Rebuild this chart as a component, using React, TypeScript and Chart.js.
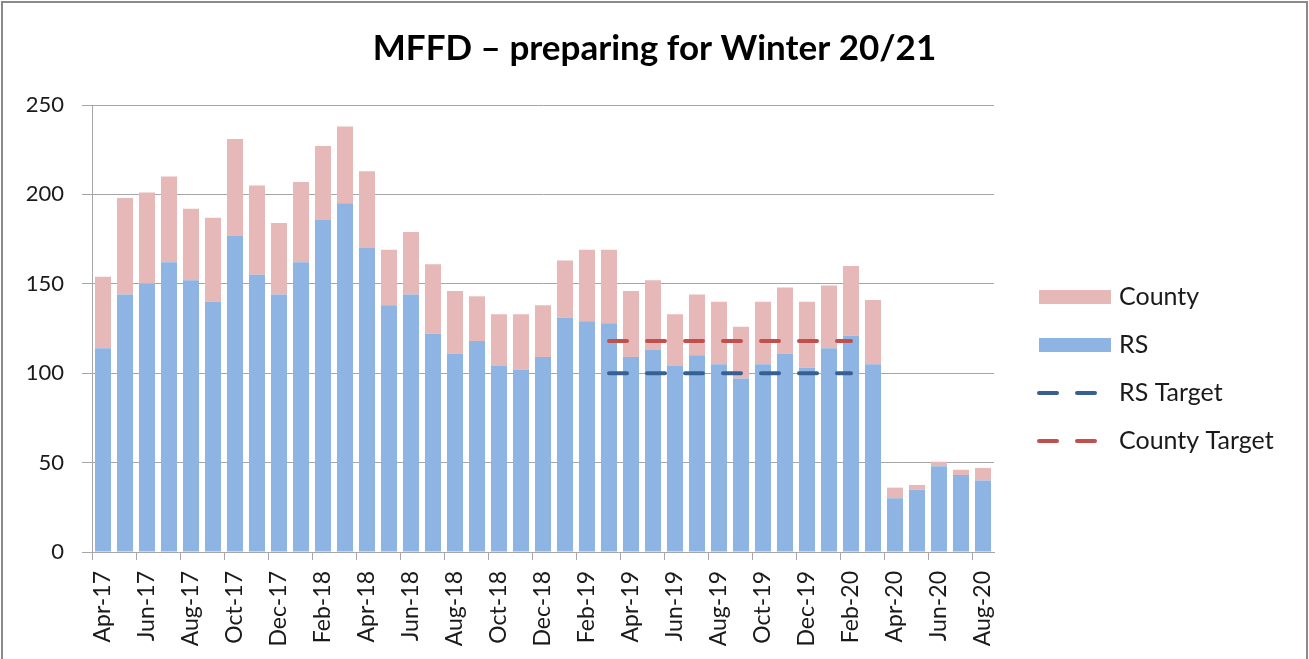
import React, { useEffect, useRef } from 'react';
import { Chart, registerables } from 'chart.js';

Chart.register(...registerables);

const chartTitle = 'MFFD – preparing for Winter 20/21';

const months = [
  'Apr-17', 'May-17', 'Jun-17', 'Jul-17', 'Aug-17', 'Sep-17', 'Oct-17', 'Nov-17', 'Dec-17',
  'Jan-18', 'Feb-18', 'Mar-18', 'Apr-18', 'May-18', 'Jun-18', 'Jul-18', 'Aug-18', 'Sep-18', 'Oct-18', 'Nov-18', 'Dec-18',
  'Jan-19', 'Feb-19', 'Mar-19', 'Apr-19', 'May-19', 'Jun-19', 'Jul-19', 'Aug-19', 'Sep-19', 'Oct-19', 'Nov-19', 'Dec-19',
  'Jan-20', 'Feb-20', 'Mar-20', 'Apr-20', 'May-20', 'Jun-20', 'Jul-20', 'Aug-20',
];

const rsValues = [
  114, 144, 150, 162, 152, 140, 177, 155, 144,
  162, 186, 195, 170, 138, 144, 122, 111, 118, 104, 102, 109,
  131, 129, 128, 109, 113, 104, 110, 105, 97, 105, 111, 103,
  114, 121, 105, 30, 35, 48, 43, 40,
];

const countyValues = [
  40, 54, 51, 48, 40, 47, 54, 50, 40,
  45, 41, 43, 43, 31, 35, 39, 35, 25, 29, 31, 29,
  32, 40, 41, 37, 39, 29, 34, 35, 29, 35, 37, 37,
  35, 39, 36, 6, 2.5, 2.5, 3, 7,
];

const rsTarget = [
  null, null, null, null, null, null, null, null, null,
  null, null, null, null, null, null, null, null, null, null, null, null,
  null, null, 100, 100, 100, 100, 100, 100, 100, 100, 100, 100,
  100, 100, null, null, null, null, null, null,
];

const countyTarget = [
  null, null, null, null, null, null, null, null, null,
  null, null, null, null, null, null, null, null, null, null, null, null,
  null, null, 118, 118, 118, 118, 118, 118, 118, 118, 118, 118,
  118, 118, null, null, null, null, null, null,
];

const yTicks = [0, 50, 100, 150, 200, 250];

const legendOrder = ['County', 'RS', 'RS Target', 'County Target'];

const COLORS = {
  rs: '#8EB4E3',
  county: '#E6B9B8',
  rsTarget: '#376092',
  countyTarget: '#C0504D',
  grid: '#a6a6a6',
  text: '#1a1a1a',
};

const FONT = 'Lato';

const sideLegend = {
  id: 'sideLegend',
  afterDraw(chart: any) {
    const { ctx, chartArea } = chart;
    const datasets = chart.data.datasets;
    const x0 = chartArea.right + 45;
    const boxW = 72;
    const boxH = 14;
    const y0 = chartArea.top + 192;
    const step = 48;
    ctx.save();
    ctx.font = `25px ${FONT}`;
    ctx.textBaseline = 'middle';
    ctx.textAlign = 'left';
    legendOrder.forEach((name, k) => {
      const d = datasets.find((ds: any) => ds.label === name);
      if (!d) return;
      const y = y0 + step * k;
      if (d.type === 'line') {
        ctx.save();
        ctx.strokeStyle = d.borderColor;
        ctx.lineWidth = d.borderWidth;
        ctx.lineCap = 'round';
        ctx.setLineDash(d.borderDash);
        ctx.beginPath();
        ctx.moveTo(x0, y);
        ctx.lineTo(x0 + 57, y);
        ctx.stroke();
        ctx.restore();
      } else {
        ctx.fillStyle = d.backgroundColor;
        ctx.fillRect(x0, y - boxH / 2, boxW, boxH);
      }
      ctx.fillStyle = COLORS.text;
      ctx.fillText(d.label, x0 + 80, y);
    });
    ctx.restore();
  },
};

export default function App() {
  const canvasRef = useRef<HTMLCanvasElement | null>(null);

  useEffect(() => {
    const canvas = canvasRef.current;
    if (!canvas) return;
    const chart = new Chart(canvas, {
      type: 'bar',
      data: {
        labels: months,
        datasets: [
          {
            type: 'bar',
            label: 'RS',
            data: rsValues,
            backgroundColor: COLORS.rs,
            borderWidth: 0,
            stack: 'bars',
            order: 2,
            barPercentage: 0.73,
            categoryPercentage: 1,
          },
          {
            type: 'bar',
            label: 'County',
            data: countyValues,
            backgroundColor: COLORS.county,
            borderWidth: 0,
            stack: 'bars',
            order: 2,
            barPercentage: 0.73,
            categoryPercentage: 1,
          },
          {
            type: 'line',
            label: 'RS Target',
            data: rsTarget,
            borderColor: COLORS.rsTarget,
            backgroundColor: COLORS.rsTarget,
            borderWidth: 4,
            borderDash: [18, 20],
            borderCapStyle: 'round',
            pointRadius: 0,
            fill: false,
            spanGaps: false,
            stack: 'rsT',
            order: 0,
          },
          {
            type: 'line',
            label: 'County Target',
            data: countyTarget,
            borderColor: COLORS.countyTarget,
            backgroundColor: COLORS.countyTarget,
            borderWidth: 4,
            borderDash: [18, 20],
            borderCapStyle: 'round',
            pointRadius: 0,
            fill: false,
            spanGaps: false,
            stack: 'cT',
            order: 0,
          },
        ] as any,
      },
      options: {
        responsive: false,
        animation: false,
        layout: { padding: { left: 0, right: 0, top: 0, bottom: 0 } },
        plugins: {
          legend: { display: false },
          tooltip: { enabled: false },
          title: {
            display: true,
            text: chartTitle,
            color: '#000',
            font: { family: FONT, size: 35, weight: 'bold' },
            padding: { top: 28, bottom: 35 },
          },
        },
        scales: {
          x: {
            stacked: true,
            grid: {
              drawOnChartArea: false,
              drawTicks: true,
              tickLength: 8,
              color: (c: any) => (c.index !== undefined && c.index % 2 === 0 ? COLORS.grid : 'rgba(0,0,0,0)'),
            },
            border: { display: true, color: COLORS.grid, width: 1 },
            ticks: {
              autoSkip: false,
              minRotation: 90,
              maxRotation: 90,
              padding: 11,
              color: COLORS.text,
              font: { family: FONT, size: 23 },
              callback: (_v: any, i: number) => (i % 2 === 0 ? months[i] : ''),
            },
            afterFit: (s: any) => {
              s.height = 107;
            },
          },
          y: {
            stacked: true,
            min: yTicks[0],
            max: yTicks[yTicks.length - 1],
            afterBuildTicks: (s: any) => {
              s.ticks = yTicks.map((v) => ({ value: v }));
            },
            grid: { color: COLORS.grid, tickLength: 10, lineWidth: 1 },
            border: { display: true, color: COLORS.grid, width: 1 },
            ticks: {
              padding: 18,
              color: COLORS.text,
              font: { family: FONT, size: 22 },
            },
            afterFit: (s: any) => {
              s.width = 92;
            },
          },
          legendSpace: {
            type: 'linear',
            position: 'right',
            display: true,
            grid: { display: false, drawTicks: false },
            border: { display: false },
            ticks: { display: false },
            afterFit: (s: any) => {
              s.width = 315;
            },
          },
        },
      } as any,
      plugins: [sideLegend],
    });
    return () => chart.destroy();
  }, []);

  return (
    <div
      style={{
        position: 'fixed',
        left: 0,
        top: 0,
        width: 1309,
        height: 659,
        overflow: 'hidden',
        background: '#fff',
      }}
    >
      <canvas ref={canvasRef} width={1309} height={659} style={{ position: 'absolute', left: 0, top: 0 }} />
      <div
        style={{
          position: 'absolute',
          left: 1,
          top: 1,
          width: 1303,
          height: 700,
          border: '2px solid #8a8a8a',
          pointerEvents: 'none',
        }}
      />
    </div>
  );
}
